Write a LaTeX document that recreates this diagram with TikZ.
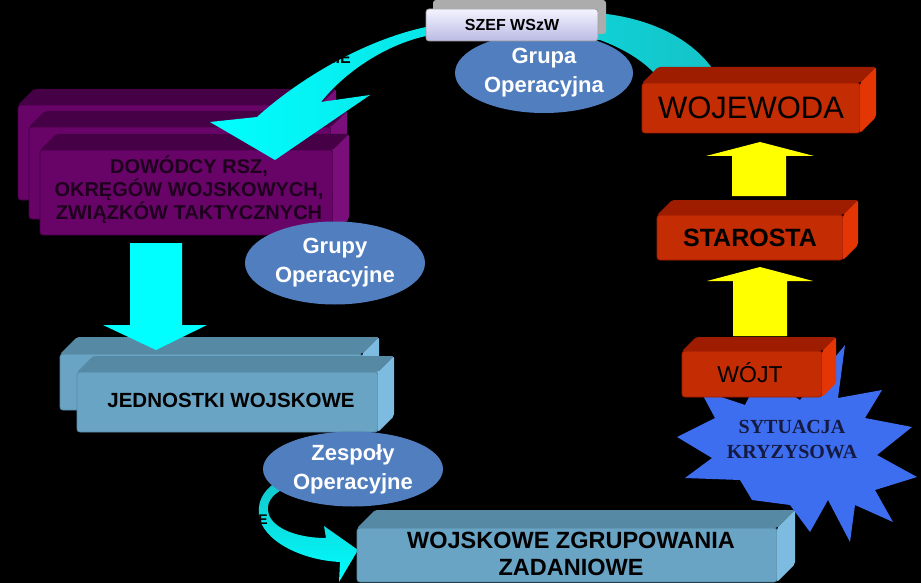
\documentclass[tikz,border=0pt]{standalone}
\usepackage{fontspec}
\setmainfont{Liberation Sans}
\newfontfamily\serifbf{Liberation Serif}
\usetikzlibrary{calc,shapes.geometric}

\definecolor{cyanA}{RGB}{0,255,255}
\definecolor{tealA}{RGB}{20,195,200}
\definecolor{purpF}{RGB}{104,4,104}
\definecolor{purpT}{RGB}{70,0,70}
\definecolor{purpS}{RGB}{122,14,122}
\definecolor{purpTxt}{RGB}{30,0,30}
\definecolor{blueF}{RGB}{106,164,196}
\definecolor{blueT}{RGB}{86,138,164}
\definecolor{blueS}{RGB}{125,188,224}
\definecolor{redF}{RGB}{196,44,4}
\definecolor{redT}{RGB}{158,28,0}
\definecolor{redS}{RGB}{228,54,4}
\definecolor{ellB}{RGB}{80,126,190}
\definecolor{starB}{RGB}{62,110,240}
\definecolor{navyT}{RGB}{20,26,64}
\definecolor{szefT}{RGB}{244,244,255}
\definecolor{szefB}{RGB}{186,186,228}
\definecolor{yel}{RGB}{255,255,0}

% #1 name, #2 x, #3 y (front face top-left), #4 width, #5 height, #6 depth, #7 front, #8 top, #9 side
\newcommand\slab[9]{%
  \node[slabface, fill=#7, draw=#8, minimum width=#4, minimum height=#5] (#1) at (#2,#3) {};
  \fill[#8, rounded corners=2pt] (#1.north west) -- ++(#6,-#6) -- ([shift={(#6,-#6)}]#1.north east) -- (#1.north east) -- cycle;
  \fill[#9, rounded corners=2pt] (#1.north east) -- ++(#6,-#6) -- ([shift={(#6,-#6)}]#1.south east) -- (#1.south east) -- cycle;
}

\begin{document}
\begin{tikzpicture}[x=1pt,y=-1pt,
  slabface/.style={rectangle, anchor=north west, inner sep=0pt, outer sep=0pt, rounded corners=3pt, line width=0.8pt},
  boxtxt/.style={inner sep=0pt, align=center, text=black},
  oval/.style={ellipse, fill=ellB, inner sep=0pt, text=white, align=center,
    font=\fontsize{22}{29}\selectfont\bfseries},
  hidtxt/.style={inner sep=0pt, text=black, font=\fontsize{16}{18}\selectfont\bfseries}
]
\fill[black] (0,0) rectangle (921,583);
\useasboundingbox (0,0) rectangle (921,583);

% --- purple stacked boxes
\slab{dA}{18}{105}{302}{95}{16}{purpF}{purpT}{purpS}
\slab{dB}{29}{127}{302}{92}{16}{purpF}{purpT}{purpS}
\slab{dC}{40}{150}{293}{85}{16}{purpF}{purpT}{purpS}
\node[boxtxt, text=purpTxt, font=\fontsize{20}{23}\selectfont\bfseries] (dTxt) at (189,190)
  {DOWÓDCY RSZ,\\OKRĘGÓW WOJSKOWYCH,\\ZWIĄZKÓW TAKTYCZNYCH};

% --- big curved cyan arrow
\shade[left color=cyanA, middle color=cyanA, right color=tealA]
  (712,68) .. controls (690,38) and (650,18) .. (598,13) -- (426,27)
  .. controls (365,40) and (300,78) .. (257,117) -- (210,122) -- (275,160) -- (370,95) -- (321,102)
  .. controls (345,72) and (385,45) .. (426,36) -- (600,40)
  .. controls (622,48) and (642,60) .. (654,73) -- (700,80) -- cycle;
\node[hidtxt, anchor=east] (nie) at (351,58) {NIE};

% --- Grupa Operacyjna + SZEF WSzW
\node[oval, minimum width=178, minimum height=80] (gop) at (544,73) {Grupa\\Operacyjna};
\fill[gray!65, rounded corners=3pt] (433,0) rectangle (606,34);
\node[slabface, top color=szefT, bottom color=szefB, draw=gray!80, minimum width=172, minimum height=32] (szef) at (426,9) {};
\node[boxtxt, font=\fontsize{16}{18}\selectfont\bfseries] (szefTxt) at (szef.center) {SZEF WSzW};

% --- WOJEWODA
\slab{woj}{642}{83}{218}{50}{16}{redF}{redT}{redS}
\node[boxtxt, font=\fontsize{31}{34}\selectfont] (wojTxt) at (751,108) {WOJEWODA};

% --- yellow arrows
\fill[yel] (732,196) -- (732,156) -- (706,156) -- (760,142) -- (814,156) -- (786,156) -- (786,196) -- cycle;
\fill[yel] (733,336) -- (733,281) -- (707,281) -- (760,267) -- (813,281) -- (787,281) -- (787,336) -- cycle;

% --- STAROSTA
\slab{sta}{657}{215}{186}{45}{15}{redF}{redT}{redS}
\node[boxtxt, font=\fontsize{25}{28}\selectfont\bfseries] (staTxt) at (750,238) {STAROSTA};

% --- star
\fill[starB] (845,345) -- (838,398) -- (882,390) -- (865,418) -- (912,427) -- (877,455)
  -- (917,477) -- (875,490) -- (893,522) -- (855,505) -- (850,542) -- (828,500)
  -- (810,532) -- (790,505) -- (752,500) -- (740,480) -- (685,478) -- (712,458)
  -- (677,437) -- (715,418) -- (700,390) -- (745,405) -- (760,375) -- (800,400) -- cycle;
\node[boxtxt, text=navyT, font=\fontsize{20}{25}\selectfont\serifbf\bfseries] (kryz) at (792,440)
  {SYTUACJA\\KRYZYSOWA};

% --- WÓJT
\slab{wojt}{682}{351}{140}{46}{14}{redF}{redT}{redS}
\node[boxtxt, font=\fontsize{23}{26}\selectfont] (wojtTxt) at (750,373) {WÓJT};

% --- Grupy Operacyjne
\node[oval, minimum width=180, minimum height=83] (gops) at (335,263) {Grupy\\Operacyjne};

% --- JEDNOSTKI WOJSKOWE
\slab{jA}{60}{354}{302}{56}{17}{blueF}{blueT}{blueS}
\slab{jB}{77}{372}{301}{60}{16}{blueF}{blueT}{blueS}
\node[boxtxt, font=\fontsize{20.5}{23}\selectfont\bfseries] (jTxt) at (231,400) {JEDNOSTKI WOJSKOWE};

% --- cyan down arrow
\fill[cyanA] (130,243) -- (130,325) -- (103,325) -- (156,350) -- (207,325) -- (182,325) -- (182,243) -- cycle;

% --- bottom curved arrow
\shade[top color=tealA, bottom color=cyanA]
  (290,475) .. controls (265,485) and (257,500) .. (259,515)
  .. controls (262,540) and (300,560) .. (340,562) -- (339,582) -- (358,550) -- (324,526) -- (326,538)
  .. controls (300,538) and (275,530) .. (269,515)
  .. controls (265,503) and (272,495) .. (283,489) -- (300,480) -- cycle;
\node[hidtxt, anchor=east, font=\fontsize{14}{16}\selectfont\bfseries] (eTxt) at (268,520) {E};

% --- Zespoly Operacyjne
\node[oval, minimum width=180, minimum height=75] (zop) at (353,469) {Zespoły\\Operacyjne};

% --- WOJSKOWE ZGRUPOWANIA ZADANIOWE
\slab{wz}{357}{528}{420}{54}{18}{blueF}{blueT}{blueS}
\node[boxtxt, font=\fontsize{23.5}{27}\selectfont\bfseries] (wzTxt) at (571,554)
  {WOJSKOWE ZGRUPOWANIA\\ZADANIOWE};
\end{tikzpicture}
\end{document}
